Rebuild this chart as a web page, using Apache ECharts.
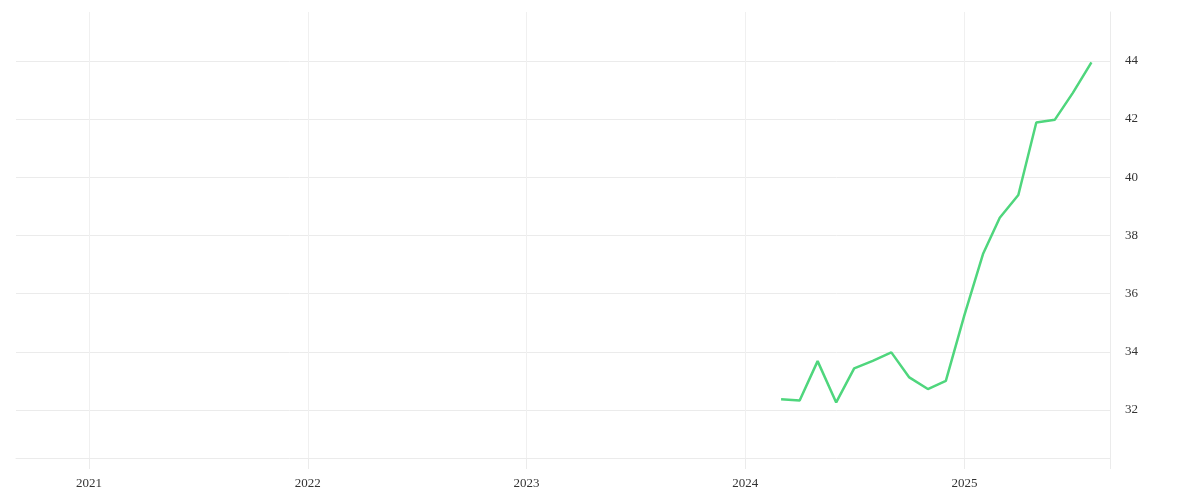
<!DOCTYPE html>
<html>
<head>
<meta charset="utf-8">
<style>html,body{margin:0;padding:0;background:#fff;}#c{width:1200px;height:500px;}</style>
<script src="https://cdn.jsdelivr.net/npm/echarts@6/dist/echarts.min.js"></script>
</head>
<body>
<div id="c"></div>
<script>
const dates = ['2024-03-01','2024-04-01','2024-05-01','2024-06-01','2024-07-01','2024-08-01','2024-09-01','2024-10-01','2024-11-01','2024-12-01','2025-01-01','2025-02-01','2025-03-01','2025-04-01','2025-05-01','2025-06-01','2025-07-01','2025-08-01'];
const values = [32.37,32.33,33.68,32.26,33.43,33.69,33.98,33.12,32.72,33.0,35.26,37.36,38.61,39.39,41.88,41.98,42.9,43.95];
const yearTicks = ['2021-01-01','2022-01-01','2023-01-01','2024-01-01','2025-01-01'];
const yTicks = [32,34,36,38,40,42,44];
const xStart = '2020-09-01';
const xEnd = '2025-09-01';

const ts = d => Date.parse(d + 'T00:00:00Z');
const chart = echarts.init(document.getElementById('c'));
const font = 'Liberation Serif';
chart.setOption({
  animation: false,
  backgroundColor: '#fff',
  grid: {left: 16, right: 90, top: 12, bottom: 42, containLabel: false},
  xAxis: {
    type: 'value',
    min: ts(xStart),
    max: ts(xEnd),
    axisLine: {show: true, lineStyle: {color: '#ebebeb', width: 1}},
    axisTick: {show: true, length: 11, lineStyle: {color: '#ebebeb'}, customValues: yearTicks.concat([xEnd]).map(ts)},
    axisLabel: {customValues: yearTicks.map(ts), formatter: v => String(new Date(v).getUTCFullYear()), color: '#333', fontFamily: font, fontSize: 13, margin: 19, hideOverlap: false},
    splitLine: {show: true, lineStyle: {color: '#f0f0f0', width: 1}}
  },
  yAxis: {
    type: 'value',
    position: 'right',
    min: 30.35,
    max: 45.68,
    axisLine: {show: true, lineStyle: {color: '#ebebeb'}},
    axisTick: {show: false, customValues: yTicks},
    axisLabel: {customValues: yTicks, color: '#333', fontFamily: font, fontSize: 13, margin: 15, padding: [4, 0, 0, 0]},
    splitLine: {show: true, lineStyle: {color: '#ebebeb', width: 1}}
  },
  series: [{
    type: 'line',
    data: dates.map((d, i) => [ts(d), values[i]]),
    showSymbol: false,
    lineStyle: {color: '#4fd67d', width: 2.5},
    itemStyle: {color: '#4fd67d'}
  }]
});
</script>
</body>
</html>
